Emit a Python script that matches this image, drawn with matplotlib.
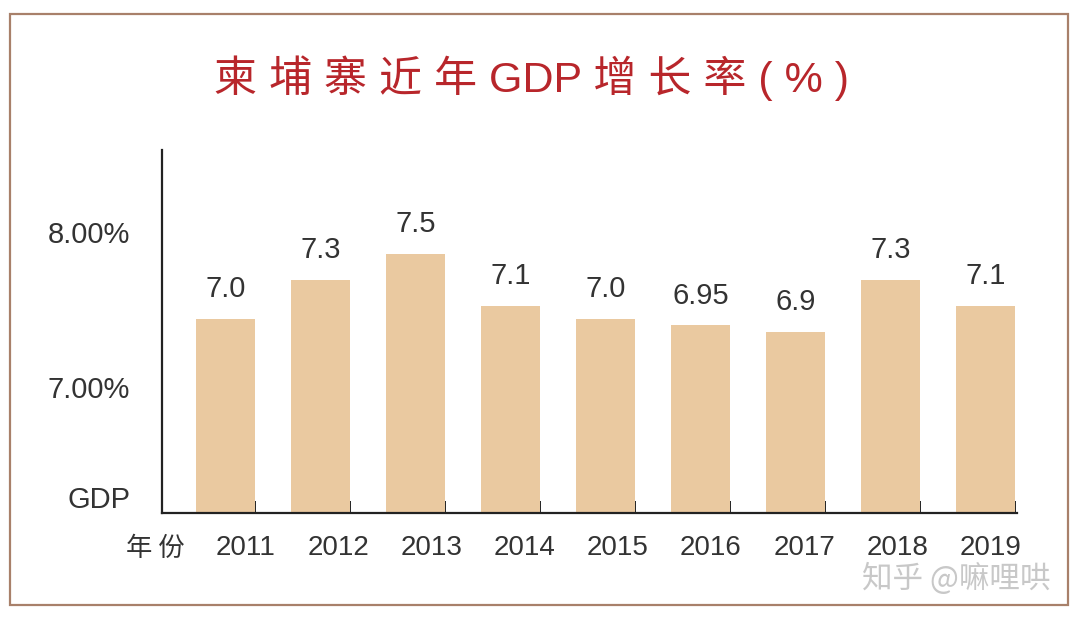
import numpy as np
import matplotlib.pyplot as plt
import matplotlib.patches as patches
import matplotlib.transforms as transforms

plt.rcParams['font.family'] = ['Liberation Sans', 'Noto Sans CJK SC', 'DejaVu Sans']

years = ['2011', '2012', '2013', '2014', '2015', '2016', '2017', '2018', '2019']
growth = [7.0, 7.3, 7.5, 7.1, 7.0, 6.95, 6.9, 7.3, 7.1]
growth_labels = ['7.0', '7.3', '7.5', '7.1', '7.0', '6.95', '6.9', '7.3', '7.1']
ytick_pos = [7.67, 6.47, 5.62]
ytick_labels = ['8.00%', '7.00%', 'GDP']

bar_col = '#eac9a0'
txt_col = '#333333'

fig = plt.figure(figsize=(10.8, 6.18), dpi=100)
fig.patch.set_facecolor('white')

# brown frame round the whole chart
frame = patches.Rectangle((10/1080, 1-605/618), 1058/1080, 591/618, transform=fig.transFigure,
                          fill=False, edgecolor='#a8806a', linewidth=1.6)
fig.patches.append(frame)

ax = fig.add_axes([162/1080, 1-513/618, 855/1080, 363/618])
x = np.arange(len(years))
ax.bar(x, growth, width=0.62, color=bar_col, zorder=2)
ax.set_xlim(-0.668, 8.332)
ax.set_ylim(5.5, 8.3)

for xi, v, lab in zip(x, growth, growth_labels):
    ax.annotate(lab, (xi, v), xytext=(0, 11), textcoords='offset points',
                ha='center', va='bottom', fontsize=21, color=txt_col)

for s in ['top', 'right']:
    ax.spines[s].set_visible(False)
for s in ['left', 'bottom']:
    ax.spines[s].set_color('#222222')
    ax.spines[s].set_linewidth(1.6)

# small upward marks at the right side of each bar
ax.set_xticks(x + 0.31, minor=True)
ax.tick_params(axis='x', which='minor', direction='in', length=9, width=1.4, color='#222222')
ax.set_xticks(x * 0.98 + 0.21)
ax.set_xticklabels(years, fontsize=20, color=txt_col)
ax.tick_params(axis='x', which='major', length=0, pad=16)

ax.set_yticks(ytick_pos)
ax.set_yticklabels(ytick_labels, fontsize=21, color=txt_col)
ax.tick_params(axis='y', length=0, pad=23)

trans = transforms.blended_transform_factory(ax.transData, ax.transAxes)
ax.text(-0.74, -0.098, '年 份', transform=trans, ha='center', va='center', fontsize=19,
        color=txt_col, family=['Noto Sans CJK SC', 'DejaVu Sans'])

fig.text(0.492, 0.874, '柬 埔 寨 近 年 GDP 增 长 率 ( % )', ha='center', va='center',
         fontsize=31, color='#b8262b', fontweight='light',
         family=['Liberation Sans', 'Noto Sans CJK SC', 'DejaVu Sans'])

fig.text(0.885, 0.064, '知乎 @嘛哩哄', ha='center', va='center', fontsize=22,
         color='#c8c8c8', family=['Noto Sans CJK SC', 'DejaVu Sans'])

fig.savefig('out.png', dpi=100)
